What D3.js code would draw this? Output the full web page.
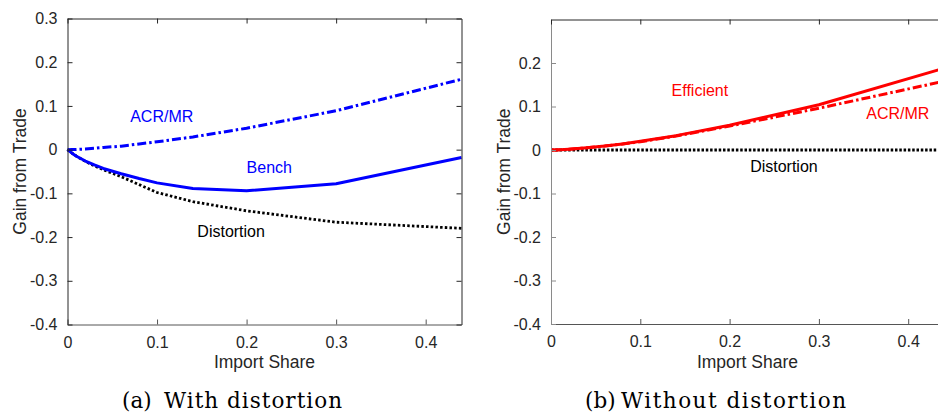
<!DOCTYPE html>
<html>
<head>
<meta charset="utf-8">
<script src="https://cdn.jsdelivr.net/npm/d3@7"></script>
<style>
  html, body { margin: 0; padding: 0; background: #fff; }
  svg { display: block; }
  text { font-family: "Liberation Sans", Arial, sans-serif; }
</style>
</head>
<body>
<svg id="fig" width="938" height="413"></svg>
<script>
// Import share grid shared by every simulated curve
const importShare = [0, 0.005, 0.01, 0.02, 0.03, 0.04, 0.06, 0.08, 0.1, 0.14, 0.2, 0.3, 0.44];

// (a) With distortion
const benchA      = [0, -0.008, -0.015, -0.026, -0.035, -0.043, -0.055, -0.066, -0.076, -0.089, -0.094, -0.078, -0.018];
const distortionA = [0, -0.008, -0.015, -0.027, -0.037, -0.046, -0.062, -0.080, -0.098, -0.119, -0.140, -0.166, -0.180];
const acrMrA      = [0, 0.0002, 0.0005, 0.0015, 0.003, 0.005, 0.008, 0.013, 0.018, 0.029, 0.049, 0.089, 0.161];

// (b) Without distortion
const efficientB  = [0, 0.0002, 0.0006, 0.0018, 0.0033, 0.005, 0.009, 0.014, 0.020, 0.033, 0.057, 0.104, 0.188];
const acrMrB      = [0, 0.0002, 0.0006, 0.0018, 0.0033, 0.005, 0.009, 0.014, 0.019, 0.032, 0.055, 0.096, 0.158];
const distortionB = [0, 0, 0, 0, 0, 0, 0, 0, 0, 0, 0, 0, 0];

// Tick values
const xTicks  = [0, 0.1, 0.2, 0.3, 0.4];
const yTicksA = [-0.4, -0.3, -0.2, -0.1, 0, 0.1, 0.2, 0.3];
const yTicksB = [-0.4, -0.3, -0.2, -0.1, 0, 0.1, 0.2];

const BLUE = "#0000ff", RED = "#ff0000", BLACK = "#000000";
const AXIS = "#262626";

const svg = d3.select("#fig");
svg.append("rect").attr("width", 938).attr("height", 413).attr("fill", "#fff");

const fmt = d => d === 0 ? "0" : String(d);

function panel(cfg) {
  const x = d3.scaleLinear().domain([0, 0.44]).range([cfg.left, cfg.right]);
  const y = d3.scaleLinear().domain([-0.4, 0.3]).range([cfg.bottom, cfg.top]);
  const g = svg.append("g");

  // curves
  const line = vals => d3.line()
    .x((d, i) => x(importShare[i]))
    .y(d => y(d))(vals);

  cfg.series.forEach(s => {
    g.append("path")
      .attr("d", line(s.values))
      .attr("fill", "none")
      .attr("stroke", s.color)
      .attr("stroke-width", s.width)
      .attr("stroke-dasharray", s.dash)
      .attr("stroke-linejoin", "round");
  });

  // box: bottom and left axes carry labels, top and right only ticks
  const bottomAxis = d3.axisBottom(x).tickValues(xTicks).tickFormat(fmt)
    .tickSizeInner(-5).tickSizeOuter(0).tickPadding(10);
  const leftAxis = d3.axisLeft(y).tickValues(cfg.yTicks).tickFormat(fmt)
    .tickSizeInner(-5).tickSizeOuter(0).tickPadding(10);
  const topAxis = d3.axisTop(x).tickValues(xTicks).tickFormat("")
    .tickSizeInner(-5).tickSizeOuter(0);
  const rightAxis = d3.axisRight(y).tickValues(cfg.yTicks).tickFormat("")
    .tickSizeInner(-5).tickSizeOuter(0);

  const styleAxis = (sel, col) => {
    sel.selectAll("path.domain").attr("stroke", col).attr("stroke-width", 1);
    sel.selectAll(".tick line").attr("stroke", col);
    sel.selectAll(".tick text").attr("fill", AXIS)
      .style("font-family", "'Liberation Sans', Arial, sans-serif")
      .style("font-size", "16px");
  };

  styleAxis(g.append("g").attr("transform", `translate(0,${cfg.bottom})`).call(bottomAxis), "#555");
  styleAxis(g.append("g").attr("transform", `translate(${cfg.left},0)`).call(leftAxis), cfg.leftColor);
  styleAxis(g.append("g").attr("transform", `translate(0,${cfg.top})`).call(topAxis), AXIS);
  styleAxis(g.append("g").attr("transform", `translate(${cfg.right},0)`).call(rightAxis), AXIS);

  // x tick numbers sit a little lower than the default padding
  g.selectAll(".tick text").filter(function () { return this.getAttribute("dy") === "0.71em"; })
    .attr("y", 12);

  // axis titles
  g.append("text")
    .attr("x", (cfg.left + cfg.right) / 2).attr("y", 368)
    .attr("text-anchor", "middle").attr("fill", AXIS)
    .style("font-size", "17.5px").text("Import Share");
  g.append("text")
    .attr("transform", `translate(${cfg.ylabelX},${(cfg.top + cfg.bottom) / 2}) rotate(-90)`)
    .attr("text-anchor", "middle").attr("fill", AXIS)
    .style("font-size", "17.5px").text("Gain from Trade");

  // curve annotations
  cfg.notes.forEach(n => {
    g.append("text")
      .attr("x", x(n.x)).attr("y", y(n.y))
      .attr("dy", "0.35em")
      .attr("fill", n.color)
      .style("font-size", "16px")
      .text(n.text);
  });

  // sub-caption
  const cap = svg.append("text")
    .attr("y", 408)
    .style("font-family", "'DejaVu Serif', 'Liberation Serif', serif")
    .style("font-size", "21.5px")
    .attr("fill", "#000");
  cap.append("tspan").attr("x", cfg.capX).text(cfg.capLabel);
  cap.append("tspan").attr("x", cfg.capX2).attr("textLength", cfg.capW)
    .attr("lengthAdjust", "spacing").text(cfg.capText);
}

panel({
  left: 67.5, right: 461.5, top: 18.5, bottom: 324.5,
  yTicks: yTicksA, leftColor: AXIS, ylabelX: 26,
  series: [
    { values: acrMrA, color: BLUE, width: 3, dash: "9,3,2.5,3" },
    { values: distortionA, color: BLACK, width: 2.8, dash: "2.5,2.2" },
    { values: benchA, color: BLUE, width: 3, dash: null }
  ],
  notes: [
    { text: "ACR/MR", x: 0.07, y: 0.075, color: BLUE },
    { text: "Bench", x: 0.2, y: -0.041, color: BLUE },
    { text: "Distortion", x: 0.145, y: -0.187, color: BLACK }
  ],
  capX: 122, capLabel: "(a)", capX2: 164, capW: 178, capText: "With distortion"
});

panel({
  left: 551, right: 551 + 0.44 * 893, top: 19.5, bottom: 324,
  yTicks: yTicksB, leftColor: "#8a8a8a", ylabelX: 510,
  series: [
    { values: distortionB, color: BLACK, width: 3, dash: "2.5,1.8" },
    { values: acrMrB, color: RED, width: 3, dash: "9,3,2.5,3" },
    { values: efficientB, color: RED, width: 3, dash: null }
  ],
  notes: [
    { text: "Efficient", x: 0.135, y: 0.137, color: RED },
    { text: "ACR/MR", x: 0.353, y: 0.084, color: RED },
    { text: "Distortion", x: 0.223, y: -0.0375, color: BLACK }
  ],
  capX: 585, capLabel: "(b)", capX2: 621, capW: 225, capText: "Without distortion"
});
</script>
</body>
</html>
